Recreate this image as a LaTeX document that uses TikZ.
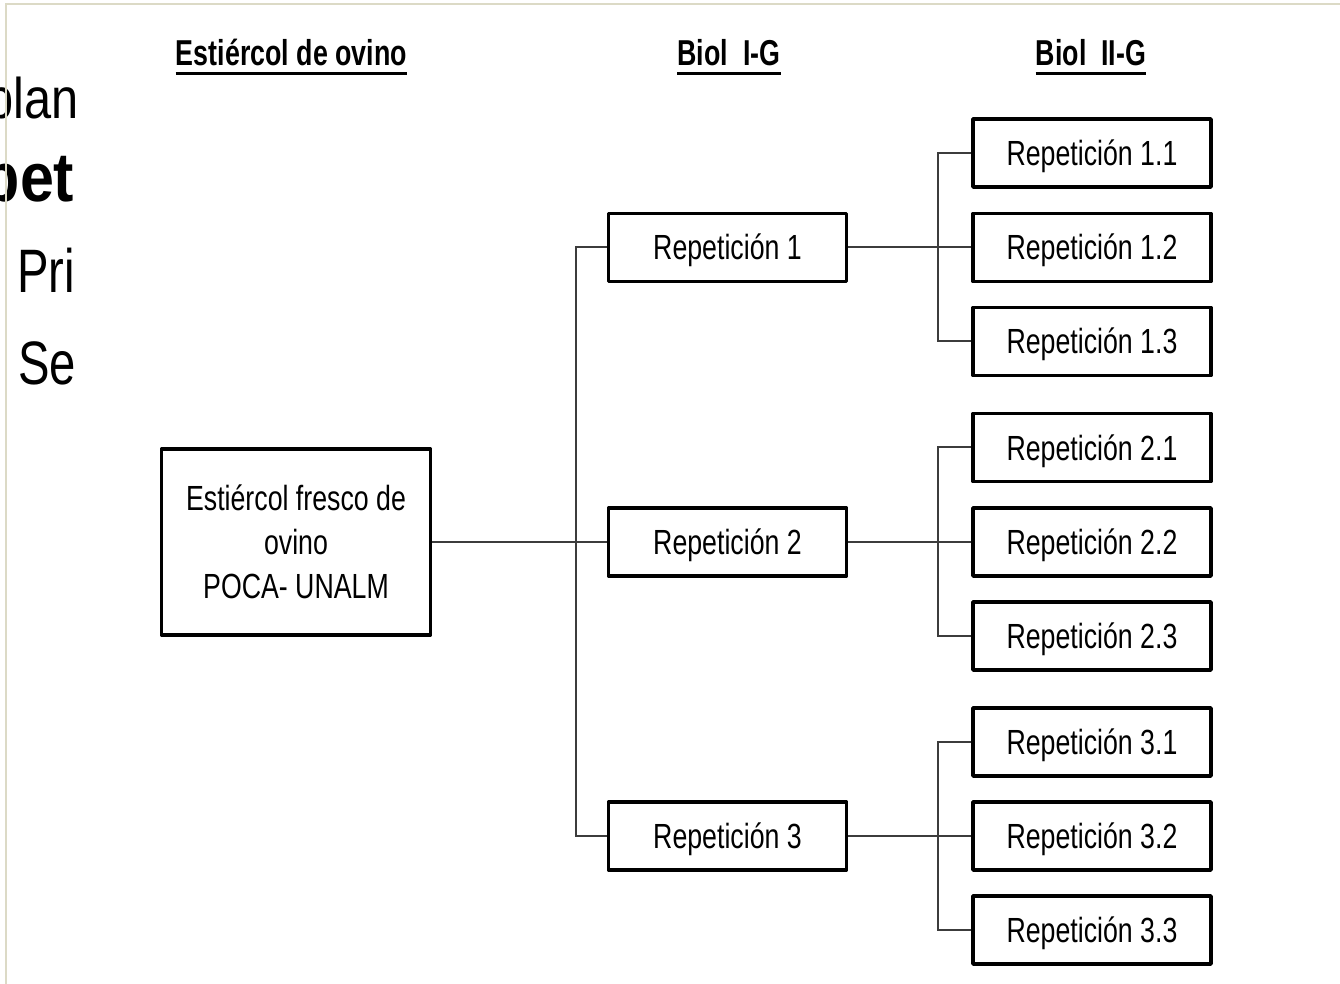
\documentclass[tikz,border=0pt]{standalone}
\usepackage{fontspec}
\usetikzlibrary{backgrounds}
\newfontfamily\nar[FakeStretch=0.765]{Liberation Sans}
\newfontfamily\narh[FakeStretch=0.745]{Liberation Sans}
\newfontfamily\slidefont[FakeStretch=0.77]{Liberation Sans}
\newfontfamily\slidewide[FakeStretch=0.85]{Liberation Sans}
\newfontfamily\slidebold[FakeStretch=0.88]{Liberation Sans}
\definecolor{beige}{RGB}{220,218,198}
\definecolor{conn}{RGB}{60,60,60}
\begin{document}
\begin{tikzpicture}[x=0.75pt,y=-0.75pt,
  repbox/.style={draw=black,line width=2.8pt,line join=round,fill=white,
    minimum width=178.5pt,minimum height=51pt,inner sep=0pt,
    font=\nar\fontsize{26.2}{33}\selectfont,text height=18.75pt,text depth=0pt},
  srcbox/.style={draw=black,line width=2.8pt,line join=round,fill=white,
    minimum width=201.6pt,minimum height=139.4pt,inner sep=0pt,align=center,
    font=\nar\fontsize{26.2}{33}\selectfont},
  head/.style={inner sep=0pt,anchor=base,font=\narh\bfseries\fontsize{27}{32}\selectfont},
  uline/.style={line width=1.9pt,black},
  link/.style={draw=conn,line width=1.5pt},
  slidetxt/.style={inner sep=0pt,anchor=base west}]
\useasboundingbox (0,0) rectangle (1340,984);

% clipped slide text on the left
\begin{scope}
  \clip (0,0) rectangle (76,984);
  \node[slidetxt,font=\slidewide\fontsize{43}{50}\selectfont] (t1) at (-14,119) {plan};
  \node[slidetxt,font=\slidebold\bfseries\fontsize{52}{60}\selectfont] (t2) at (-17.5,202) {pet};
  \node[slidetxt,font=\slidefont\fontsize{46}{54}\selectfont] (t3) at (17,293) {Pri};
  \node[slidetxt,font=\slidefont\fontsize{46}{54}\selectfont] (t4) at (18,385) {Se};
\end{scope}
\draw[beige,line width=1.5pt] (6.3,984) -- (6.3,4) -- (1340,4);

% headers
\node[head] (h1) at (291.5,66) {Estiércol de ovino};
\node[head] (h2) at (729,66) {Biol\ \ I-G};
\node[head] (h3) at (1091,66) {Biol\ \ II-G};
\foreach \h in {h1,h2,h3}
  \draw[uline] ([yshift=-5.5pt]\h.base west) -- ([yshift=-5.5pt]\h.base east);

% source
\node[srcbox] (src) at (296,542) {Estiércol fresco de\\ovino\\POCA- UNALM};

% level 1
\node[repbox] (r1) at (727.5,247.5) {Repetición 1};
\node[repbox] (r2) at (727.5,542) {Repetición 2};
\node[repbox] (r3) at (727.5,836) {Repetición 3};

% level 2
\node[repbox] (r11) at (1092,153) {Repetición 1.1};
\node[repbox] (r12) at (1092,247.5) {Repetición 1.2};
\node[repbox] (r13) at (1092,341.5) {Repetición 1.3};
\node[repbox] (r21) at (1092,447.5) {Repetición 2.1};
\node[repbox] (r22) at (1092,542) {Repetición 2.2};
\node[repbox] (r23) at (1092,636) {Repetición 2.3};
\node[repbox] (r31) at (1092,742) {Repetición 3.1};
\node[repbox] (r32) at (1092,836) {Repetición 3.2};
\node[repbox] (r33) at (1092,930) {Repetición 3.3};

\begin{scope}[on background layer]
  \draw[link] (src.east) -- (r2.west);
  \draw[link] (r1.west) -- ++(-31,0) |- (r3.west);
  \draw[link] (r1.east) -- (r12.west);
  \draw[link] (r2.east) -- (r22.west);
  \draw[link] (r3.east) -- (r32.west);
  \draw[link] (r11.west) -- ++(-33,0) |- (r13.west);
  \draw[link] (r21.west) -- ++(-33,0) |- (r23.west);
  \draw[link] (r31.west) -- ++(-33,0) |- (r33.west);
\end{scope}
\end{tikzpicture}
\end{document}
